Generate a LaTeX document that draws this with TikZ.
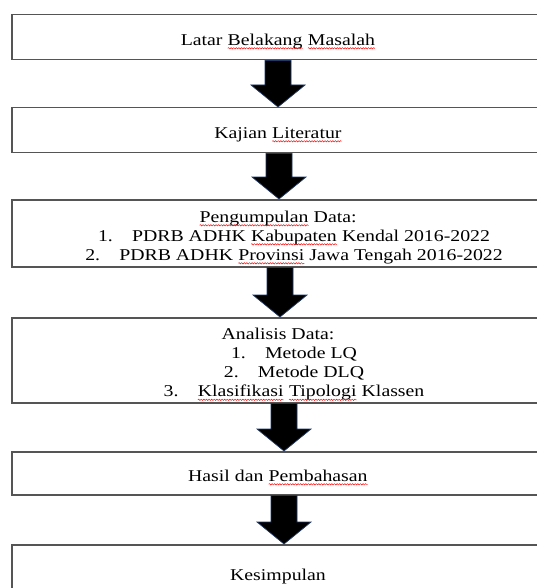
\documentclass[tikz,border=0pt]{standalone}
\usepackage{fontspec}
\setmainfont{Liberation Serif}[FakeStretch=1.2]
\usetikzlibrary{calc,decorations.pathmorphing}

\definecolor{boxgray}{RGB}{85,85,85}
\definecolor{arrowblue}{RGB}{32,56,100}

% red wavy line of the spell checker
\newcommand{\typo}[1]{\tikz[baseline=(w.base)]{%
  \node[draw=none,fill=none,anchor=base,inner sep=0pt,outer sep=0pt,
    minimum width=0pt,minimum height=0pt,align=left,font=] (w) {#1};
  \draw[red,line width=0.45pt,decorate,decoration={snake,amplitude=0.7pt,segment length=2.6pt}]
    ([yshift=-3pt]w.base west) -- ([yshift=-3pt]w.base east);}}
\newcommand{\numline}[2]{\hspace*{32pt}\makebox[34pt][l]{#1}#2}
% taller first line, so the text sits a little low in its box
\newcommand{\lift}{\rule{0pt}{20pt}}

\begin{document}
\begin{tikzpicture}[x=1pt,y=-1pt,
  stage/.style={draw=boxgray,line width=1.5pt,rectangle,anchor=north,
    minimum width=532pt,align=center,inner sep=2pt,
    font=\fontsize{16.5pt}{19pt}\selectfont},
  blockarrow/.style={fill=black,draw=arrowblue,line width=0.7pt,line join=miter}]

  \useasboundingbox (0,0) rectangle (536,588);

  % boxes
  \node[stage,minimum height=45pt] (bg) at (278,14) {\lift Latar \typo{Belakang} \typo{Masalah}};
  \node[stage,minimum height=45pt] (kl) at (278,107) {\lift Kajian \typo{Literatur}};
  \node[stage,minimum height=67pt] (pd) at (278,199) {\lift\typo{Pengumpulan} Data:\\
    \numline{1.}{PDRB ADHK \typo{Kabupaten} Kendal 2016-2022}\\
    \numline{2.}{PDRB ADHK \typo{Provinsi} Jawa Tengah 2016-2022}};
  \node[stage,minimum height=85pt] (ad) at (278,317) {\lift Analisis Data:\\
    \numline{1.}{Metode LQ}\\
    \numline{2.}{Metode DLQ}\\
    \numline{3.}{\typo{Klasifikasi} \typo{Tipologi} Klassen}};
  \node[stage,minimum height=43pt] (hp) at (278,451) {\lift Hasil dan \typo{Pembahasan}};
  \node[stage,minimum height=54pt] (ks) at (278,544) {\lift Kesimpulan};

  % block arrows between the boxes
  \foreach \a/\b/\dx in {bg/kl/0, kl/pd/1, pd/ad/2, ad/hp/6, hp/ks/6}
    \draw[blockarrow] ($(\a.south)+(\dx-13,0)$) -- ($(\b.north)+(\dx-13,-22)$)
      -- ($(\b.north)+(\dx-27,-22)$) -- ($(\b.north)+(\dx,0)$)
      -- ($(\b.north)+(\dx+27,-22)$) -- ($(\b.north)+(\dx+13,-22)$)
      -- ($(\a.south)+(\dx+13,0)$) -- cycle;

\end{tikzpicture}
\end{document}
